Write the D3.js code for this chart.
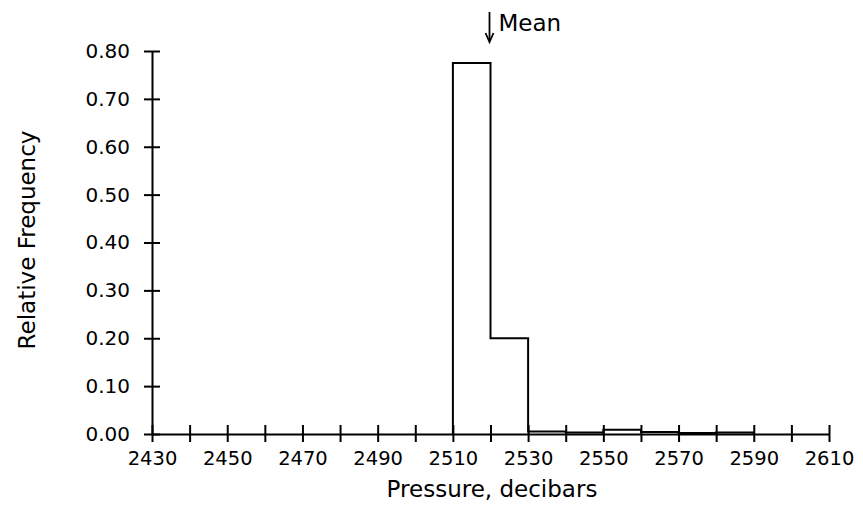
<!DOCTYPE html>
<html>
<head>
<meta charset="utf-8">
<script src="https://cdn.jsdelivr.net/npm/d3@7"></script>
<style>
  body { margin: 0; background: #fff; }
  text { font-family: "DejaVu Sans", "Liberation Sans", Arial, sans-serif; fill: #000; }
</style>
</head>
<body>
<svg id="chart"></svg>
<script>
const width = 863;
const height = 513;

// histogram bins (left edge, 10 dbar wide) and relative frequency
const binStarts = [2510, 2520, 2530, 2540, 2550, 2560, 2570, 2580];
const freqs = [0.775, 0.20, 0.005, 0.003, 0.009, 0.004, 0.002, 0.003];
const binWidth = 10;

const xTickValues = d3.range(2430, 2611, 10);
const xLabelValues = d3.range(2430, 2611, 20);
const yTickValues = [0, 0.1, 0.2, 0.3, 0.4, 0.5, 0.6, 0.7, 0.8];
const meanValue = 2520;

const svg = d3.select("#chart")
    .attr("width", width)
    .attr("height", height);

const x = d3.scaleLinear().domain([2430, 2610]).range([152, 829]);
const y = d3.scaleLinear().domain([0, 0.8]).range([434, 51]);

// y axis
const yAxis = d3.axisLeft(y)
    .tickValues(yTickValues)
    .tickFormat(d3.format(".2f"))
    .tickSize(0)
    .tickPadding(22);

const gy = svg.append("g").attr("transform", `translate(${x(2430)},0)`).call(yAxis);
gy.select(".domain").attr("stroke", "#000").attr("stroke-width", 2);
gy.selectAll("text").style("font-size", "20px");
gy.selectAll(".tick").append("line")
    .attr("x1", -8).attr("x2", 8)
    .attr("stroke", "#000").attr("stroke-width", 2);

// x axis
const xAxis = d3.axisBottom(x)
    .tickValues(xTickValues)
    .tickFormat(d => xLabelValues.includes(d) ? d : "")
    .tickSize(0)
    .tickPadding(17);

const gx = svg.append("g").attr("transform", `translate(0,${y(0)})`).call(xAxis);
gx.select(".domain").attr("stroke", "#000").attr("stroke-width", 2);
gx.selectAll("text").style("font-size", "19.5px");
gx.selectAll(".tick").append("line")
    .attr("y1", -9).attr("y2", 8)
    .attr("stroke", "#000").attr("stroke-width", 2);

// histogram outline (stepped)
const pts = [[binStarts[0], 0]];
binStarts.forEach((b, i) => {
    pts.push([b, freqs[i]]);
    pts.push([b + binWidth, freqs[i]]);
});
pts.push([binStarts[binStarts.length - 1] + binWidth, 0]);

const line = d3.line().x(d => x(d[0])).y(d => y(d[1]));
svg.append("path")
    .attr("d", line(pts))
    .attr("fill", "none")
    .attr("stroke", "#000")
    .attr("stroke-width", 2);

// mean marker
const mx = x(meanValue) - 1;
svg.append("line")
    .attr("x1", mx).attr("x2", mx)
    .attr("y1", 12).attr("y2", 41)
    .attr("stroke", "#000").attr("stroke-width", 1.8);
svg.append("path")
    .attr("d", `M${mx - 4},33 L${mx},42 L${mx + 4},33`)
    .attr("fill", "none")
    .attr("stroke", "#000").attr("stroke-width", 1.8);
svg.append("text")
    .attr("x", mx + 9).attr("y", 31)
    .style("font-size", "23px")
    .text("Mean");

// axis titles
svg.append("text")
    .attr("x", 492).attr("y", 497)
    .attr("text-anchor", "middle")
    .style("font-size", "23px")
    .text("Pressure, decibars");

svg.append("text")
    .attr("transform", "translate(35,240) rotate(-90)")
    .attr("text-anchor", "middle")
    .style("font-size", "23px")
    .text("Relative Frequency");
</script>
</body>
</html>
